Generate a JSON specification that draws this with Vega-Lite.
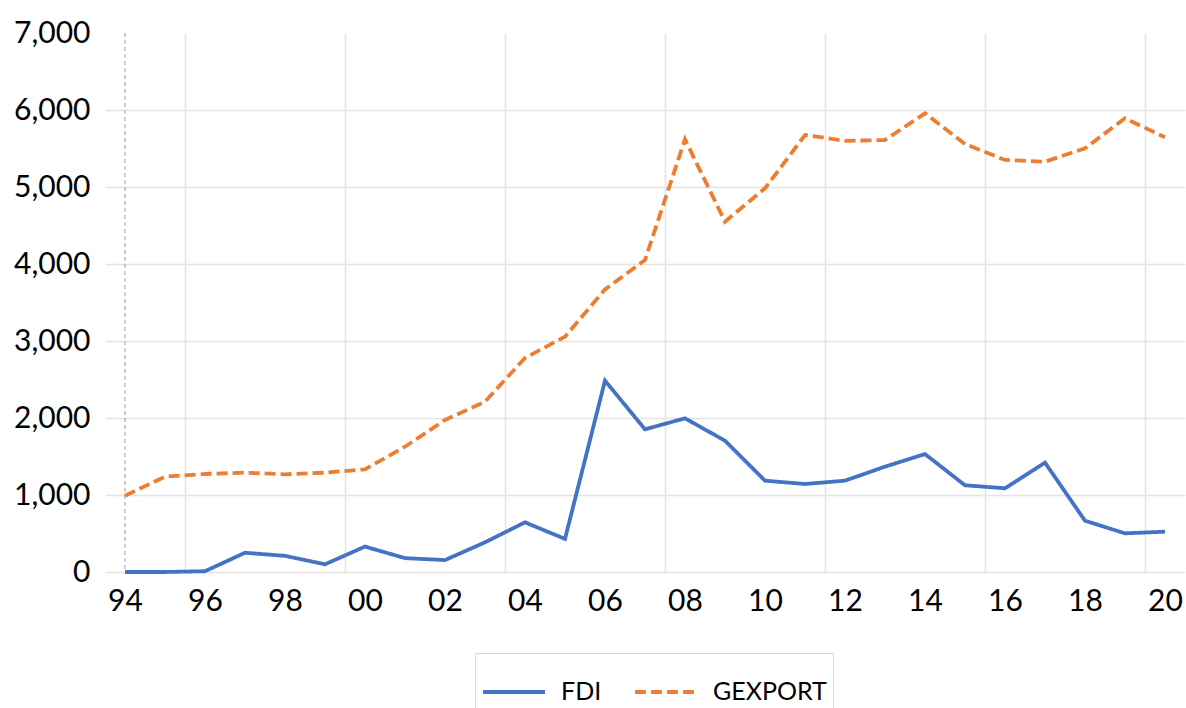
{
  "$schema": "https://vega.github.io/schema/vega-lite/v6.json",
  "autosize": "none",
  "width": 1080,
  "height": 539,
  "padding": {"left": 105, "top": 33, "right": 1, "bottom": 136},
  "background": "white",
  "config": {
    "view": {"stroke": null},
    "font": "Lato",
    "axis": {"labelFont": "Lato", "labelColor": "#000000"},
    "legend": {"labelFont": "Lato"}
  },
  "layer": [
    {
      "data": {"values": [
        {"year": 1994, "series": "FDI", "value": 0},
        {"year": 1995, "series": "FDI", "value": 0},
        {"year": 1996, "series": "FDI", "value": 10},
        {"year": 1997, "series": "FDI", "value": 250},
        {"year": 1998, "series": "FDI", "value": 210},
        {"year": 1999, "series": "FDI", "value": 100},
        {"year": 2000, "series": "FDI", "value": 330},
        {"year": 2001, "series": "FDI", "value": 180},
        {"year": 2002, "series": "FDI", "value": 155},
        {"year": 2003, "series": "FDI", "value": 385},
        {"year": 2004, "series": "FDI", "value": 645},
        {"year": 2005, "series": "FDI", "value": 430},
        {"year": 2006, "series": "FDI", "value": 2485},
        {"year": 2007, "series": "FDI", "value": 1853},
        {"year": 2008, "series": "FDI", "value": 1996},
        {"year": 2009, "series": "FDI", "value": 1705},
        {"year": 2010, "series": "FDI", "value": 1186},
        {"year": 2011, "series": "FDI", "value": 1143},
        {"year": 2012, "series": "FDI", "value": 1186},
        {"year": 2013, "series": "FDI", "value": 1368},
        {"year": 2014, "series": "FDI", "value": 1532},
        {"year": 2015, "series": "FDI", "value": 1126},
        {"year": 2016, "series": "FDI", "value": 1087},
        {"year": 2017, "series": "FDI", "value": 1420},
        {"year": 2018, "series": "FDI", "value": 666},
        {"year": 2019, "series": "FDI", "value": 502},
        {"year": 2020, "series": "FDI", "value": 524},
        {"year": 1994, "series": "GEXPORT", "value": 991},
        {"year": 1995, "series": "GEXPORT", "value": 1238},
        {"year": 1996, "series": "GEXPORT", "value": 1273},
        {"year": 1997, "series": "GEXPORT", "value": 1290},
        {"year": 1998, "series": "GEXPORT", "value": 1269},
        {"year": 1999, "series": "GEXPORT", "value": 1290},
        {"year": 2000, "series": "GEXPORT", "value": 1334},
        {"year": 2001, "series": "GEXPORT", "value": 1627},
        {"year": 2002, "series": "GEXPORT", "value": 1974},
        {"year": 2003, "series": "GEXPORT", "value": 2212},
        {"year": 2004, "series": "GEXPORT", "value": 2780},
        {"year": 2005, "series": "GEXPORT", "value": 3056},
        {"year": 2006, "series": "GEXPORT", "value": 3670},
        {"year": 2007, "series": "GEXPORT", "value": 4052},
        {"year": 2008, "series": "GEXPORT", "value": 5619},
        {"year": 2009, "series": "GEXPORT", "value": 4550},
        {"year": 2010, "series": "GEXPORT", "value": 4983},
        {"year": 2011, "series": "GEXPORT", "value": 5675},
        {"year": 2012, "series": "GEXPORT", "value": 5600},
        {"year": 2013, "series": "GEXPORT", "value": 5610},
        {"year": 2014, "series": "GEXPORT", "value": 5957},
        {"year": 2015, "series": "GEXPORT", "value": 5558},
        {"year": 2016, "series": "GEXPORT", "value": 5351},
        {"year": 2017, "series": "GEXPORT", "value": 5329},
        {"year": 2018, "series": "GEXPORT", "value": 5502},
        {"year": 2019, "series": "GEXPORT", "value": 5892},
        {"year": 2020, "series": "GEXPORT", "value": 5645}
      ]},
      "mark": {"type": "line", "strokeWidth": 3.8},
      "encoding": {
        "x": {
          "field": "year", "type": "quantitative",
          "scale": {"domain": [1993.5, 2020.5], "nice": false, "zero": false},
          "axis": {
            "title": null,
            "values": [1994, 1995.5, 1996, 1998, 1999.5, 2000, 2002, 2003.5, 2004, 2006, 2007.5, 2008, 2010, 2011.5, 2012, 2014, 2015.5, 2016, 2018, 2019.5, 2020],
            "labelExpr": "datum.value % 2 == 0 ? slice('0' + (datum.value % 100), -2) : ''",
            "labelOverlap": false,
            "labelFlush": false,
            "labelFontSize": 30,
            "labelPadding": 14,
            "ticks": false,
            "domain": false,
            "grid": true,
            "gridColor": "#e4e4e4",
            "gridWidth": 1.5,
            "gridOpacity": {"condition": {"test": "datum.value % 4 == 3.5", "value": 1}, "value": 0}
          }
        },
        "y": {
          "field": "value", "type": "quantitative",
          "scale": {"domain": [0, 7000], "nice": false},
          "axis": {
            "title": null,
            "values": [0, 1000, 2000, 3000, 4000, 5000, 6000, 7000],
            "format": ",.0f",
            "labelFontSize": 30,
            "labelPadding": 15,
            "ticks": false,
            "domain": false,
            "grid": true,
            "gridColor": "#e4e4e4",
            "gridWidth": 1.5,
            "gridOpacity": {"condition": {"test": "datum.value == 7000", "value": 0}, "value": 1}
          }
        },
        "color": {
          "field": "series", "type": "nominal",
          "scale": {"domain": ["FDI", "GEXPORT"], "range": ["#4472C4", "#ED7D31"]},
          "legend": {
            "title": null,
            "orient": "none",
            "legendX": 370,
            "legendY": 620,
            "direction": "horizontal",
            "symbolType": "stroke",
            "symbolSize": 3844,
            "symbolStrokeWidth": 3.8,
            "labelFontSize": 25,
            "labelOffset": 14,
            "labelLimit": 300,
            "strokeColor": "#d9d9d9",
            "padding": 6,
            "columnPadding": 25
          }
        },
        "strokeDash": {
          "field": "series", "type": "nominal",
          "scale": {"domain": ["FDI", "GEXPORT"], "range": [[1, 0], [11, 5]]},
          "legend": {
            "title": null,
            "orient": "none",
            "legendX": 370,
            "legendY": 620,
            "direction": "horizontal",
            "symbolType": "stroke",
            "symbolSize": 3844,
            "symbolStrokeWidth": 3.8,
            "labelFontSize": 25,
            "labelOffset": 14,
            "labelLimit": 300,
            "strokeColor": "#d9d9d9",
            "padding": 6,
            "columnPadding": 25
          }
        }
      }
    },
    {
      "data": {"values": [{"axisYear": 1994}]},
      "mark": {"type": "rule", "color": "#9a9a9a", "strokeWidth": 1, "strokeDash": [4, 3]},
      "encoding": {"x": {"field": "axisYear", "type": "quantitative"}}
    }
  ]
}
